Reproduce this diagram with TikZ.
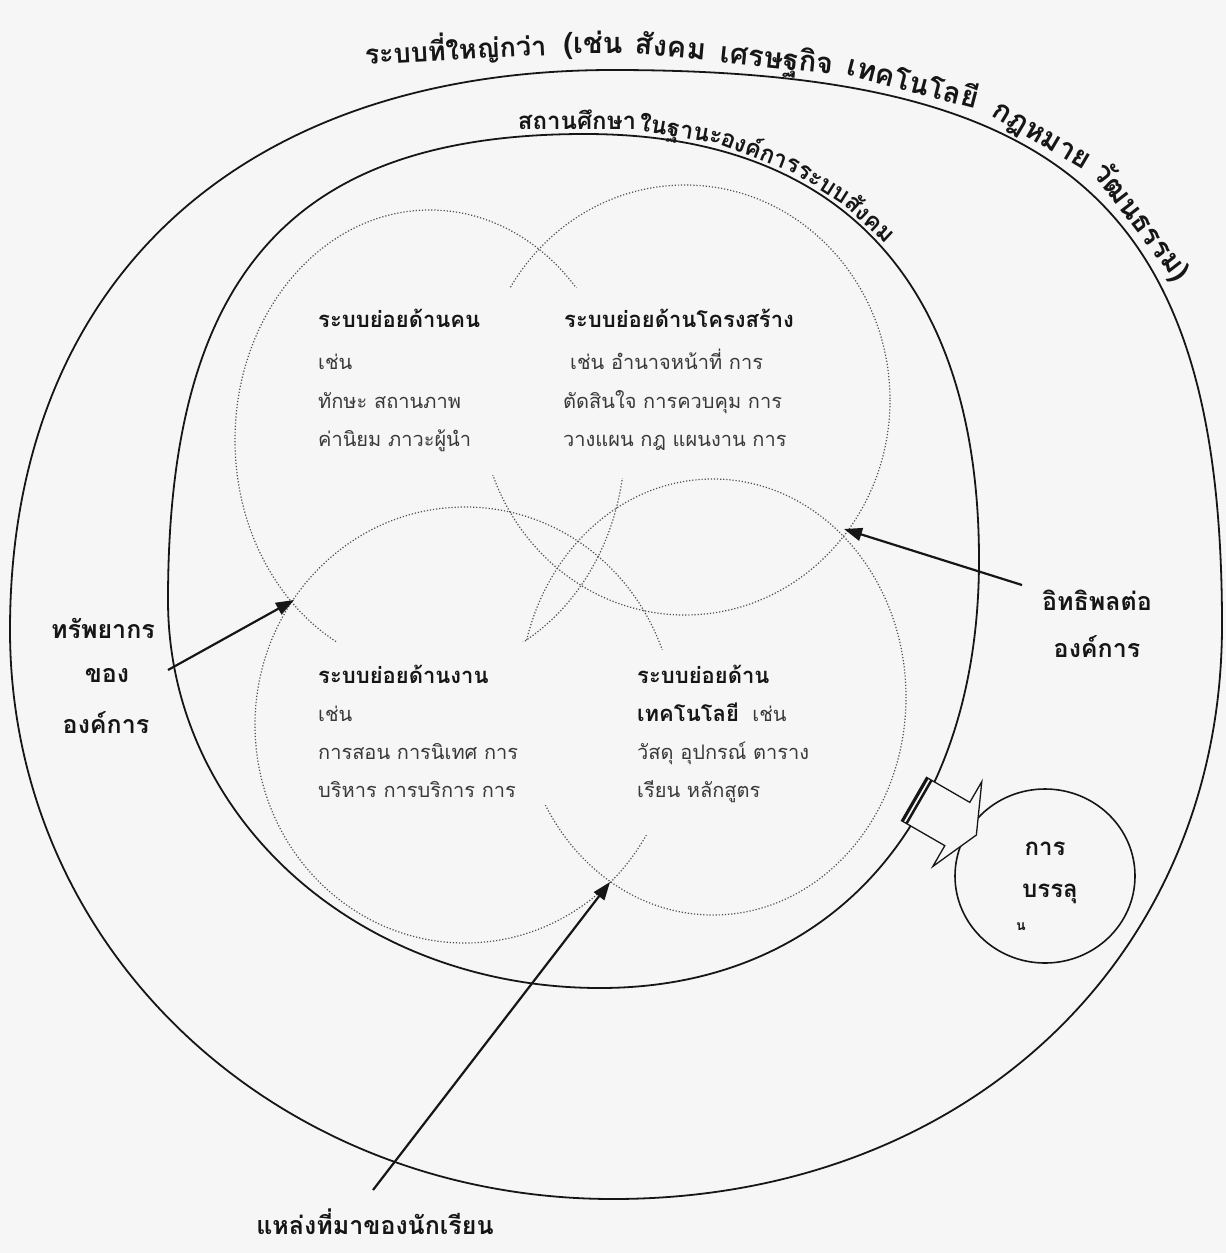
\documentclass[tikz,border=0pt]{standalone}
\usepackage{fontspec}
\newfontfamily\thaifnt[Script=Thai]{Loma}
\usetikzlibrary{arrows.meta}
\definecolor{bgc}{RGB}{246,246,246}
\definecolor{ink}{RGB}{22,22,22}
\begin{document}
\begin{tikzpicture}[x=1pt,y=-1pt,
  rim/.style={draw=ink, line width=1.8pt, line join=round},
  subring/.style={draw=ink!75, dash pattern=on 1.2pt off 1.9pt, line width=1.2pt},
  ttl/.style={font=\thaifnt\bfseries\fontsize{29}{34}\selectfont, text=ink, inner sep=0pt, anchor=base},
  stl/.style={font=\thaifnt\bfseries\fontsize{24}{28}\selectfont, text=ink, inner sep=0pt, anchor=base},
  hd/.style={font=\thaifnt\bfseries\fontsize{22}{26}\selectfont, text=ink, anchor=base west, inner sep=0pt},
  bd/.style={font=\thaifnt\fontsize{20}{24}\selectfont, text=ink!85, anchor=base west, inner sep=0pt},
  lbl/.style={font=\thaifnt\bfseries\fontsize{25}{30}\selectfont, text=ink, inner sep=0pt},
  ptr/.style={draw=ink, line width=2.2pt, -{Triangle[length=18pt,width=13pt]}},
]
\fill[bgc] (0,0) rectangle (1226,1253);
\useasboundingbox (0,0) rectangle (1226,1253);

% outer ring: the larger system
\draw[rim] (613,70) .. controls (1070,70) and (1222,209) .. (1222,625)
  .. controls (1222,958) and (966,1199) .. (613,1199)
  .. controls (275,1199) and (10,949) .. (10,630)
  .. controls (10,283) and (239,70) .. (613,70) -- cycle;

% inner ring: the school as an organisation
\draw[rim] (585,134) .. controls (841,134) and (979,283) .. (979,560)
  .. controls (979,821) and (831,988) .. (600,988)
  .. controls (358,988) and (168,817) .. (168,600)
  .. controls (168,274) and (293,134) .. (585,134) -- cycle;

% four dotted subsystems
\draw[subring] (430,440) ellipse [x radius=195, y radius=230];
\draw[subring] (685,400) ellipse [x radius=205, y radius=215];
\draw[subring] (465,725) ellipse [x radius=210, y radius=218];
\draw[subring] (713,697) ellipse [x radius=193, y radius=218];

% text boxes covering parts of the dotted rings
\fill[bgc] (300,288) rectangle (515,475);
\fill[bgc] (545,288) rectangle (812,478);
\fill[bgc] (305,642) rectangle (548,805);
\fill[bgc] (625,650) rectangle (815,835);

% box A
\node[hd] (a1) at (318,327) {ระบบย่อยด้านคน};
\node[bd] (a2) at (318,369) {เช่น};
\node[bd] (a3) at (318,408) {ทักษะ สถานภาพ};
\node[bd] (a4) at (318,446) {ค่านิยม ภาวะผู้นำ};
% box B
\node[hd] (b1) at (564,327) {ระบบย่อยด้านโครงสร้าง};
\node[bd] (b2) at (570,369) {เช่น อำนาจหน้าที่ การ};
\node[bd] (b3) at (563,408) {ตัดสินใจ การควบคุม การ};
\node[bd] (b4) at (563,446) {วางแผน กฎ แผนงาน การ};
% box C
\node[hd] (c1) at (318,683) {ระบบย่อยด้านงาน};
\node[bd] (c2) at (318,721) {เช่น};
\node[bd] (c3) at (318,759) {การสอน การนิเทศ การ};
\node[bd] (c4) at (318,797) {บริหาร การบริการ การ};
% box D
\node[hd] (d1) at (637,683) {ระบบย่อยด้าน};
\node[bd] (d2) at (637,721) {{\bfseries\fontsize{22}{26}\selectfont\color{ink}เทคโนโลยี}\ \ เช่น};
\node[bd] (d3) at (637,759) {วัสดุ อุปกรณ์ ตาราง};
\node[bd] (d4) at (637,797) {เรียน หลักสูตร};

% title along the outer ring
\node[ttl, rotate=3, font=\thaifnt\bfseries\fontsize{27}{32}\selectfont] (t1) at (456,60) {ระบบที่ใหญ่กว่า};
\node[ttl]            (t2) at (593,53) {(เช่น};
\node[ttl, rotate=-5] (t3) at (670,57) {สังคม};
\path (613,61) .. controls (1076,61) and (1231,207) .. (1231,625)
  node[ttl, sloped, pos=0.128] (t4) {เศรษฐกิจ}
  node[ttl, sloped, pos=0.256] (t5) {เทคโนโลยี}
  node[ttl, sloped, pos=0.409] (t6) {กฎหมาย}
  node[ttl, sloped, pos=0.572] (t7) {วัฒนธรรม)};

% subtitle along the inner ring
\node[stl] (s1) at (577,129) {สถานศึกษา};
\path (585,130) .. controls (843,130) and (983,283) .. (983,560)
  node[stl, sloped, pos=0.13]  (s2) {ในฐานะ}
  node[stl, sloped, pos=0.253] (s3) {องค์การ}
  node[stl, sloped, pos=0.365] (s4) {ระบบ}
  node[stl, sloped, pos=0.461] (s5) {สังคม};

% side labels
\node[lbl] (r1) at (103,628) {ทรัพยากร};
\node[lbl] (r2) at (107,676) {ของ};
\node[lbl] (r3) at (106,723) {องค์การ};
\node[lbl] (i1) at (1097,600) {อิทธิพลต่อ};
\node[lbl] (i2) at (1097,647) {องค์การ};
\node[lbl] (n1) at (375,1222) {แหล่งที่มาของนักเรียน};

% pointers
\coordinate (rTail) at (168,670);
\coordinate (rTip)  at (294,600);
\coordinate (iTail) at (1022,585);
\coordinate (iTip)  at (844,529);
\coordinate (nTail) at (373,1190);
\coordinate (nTip)  at (610,882);
\draw[ptr] (rTail) -- (rTip);
\draw[ptr] (iTail) -- (iTip);
\draw[ptr] (nTail) -- (nTip);

% achievement circle
\draw[draw=ink, line width=1.6pt] (1045,876) ellipse [x radius=90, y radius=87];
\node[lbl, font=\thaifnt\bfseries\fontsize{24}{28}\selectfont] (g1) at (1045,849) {การ};
\node[lbl, font=\thaifnt\bfseries\fontsize{24}{28}\selectfont] (g2) at (1050,894) {บรรลุ};
\node[lbl, font=\thaifnt\bfseries\fontsize{14}{16}\selectfont] (g3) at (1021,927) {น};

% striped block arrow
\begin{scope}[shift={(914,799)}, rotate=-30]
  \filldraw[fill=bgc, draw=ink, line width=1.3pt] (0,-25) -- (50,-25) -- (50,-49) -- (72,0) -- (50,49) -- (50,25) -- (0,25) -- cycle;
  \fill[ink] (0,-25) rectangle (2.5,25);
  \fill[ink] (4.5,-25) rectangle (7,25);
\end{scope}
\end{tikzpicture}
\end{document}
